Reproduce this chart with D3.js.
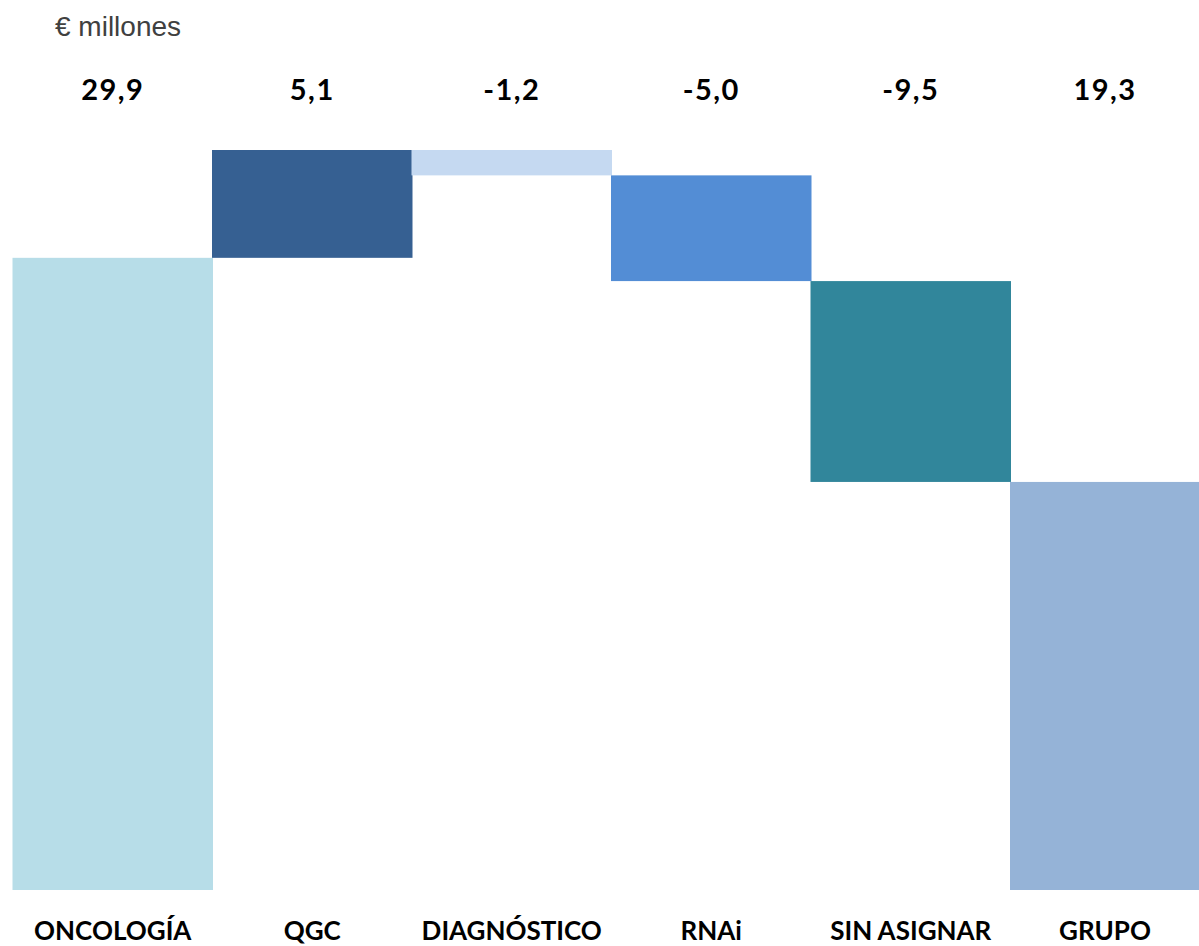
<!DOCTYPE html>
<html>
<head>
<meta charset="utf-8">
<script src="https://cdn.jsdelivr.net/npm/d3@7"></script>
<style>
  html, body { margin: 0; padding: 0; background: #fff; overflow: hidden; }
  svg { display: block; }
</style>
</head>
<body>
<svg id="chart" width="1199" height="946"></svg>
<script>
// Contribución por segmento (€ millones)
const categories = ["ONCOLOGÍA", "QGC", "DIAGNÓSTICO", "RNAi", "SIN ASIGNAR", "GRUPO"];
const values = [29.9, 5.1, -1.2, -5.0, -9.5, 19.3];
const valueLabels = ["29,9", "5,1", "-1,2", "-5,0", "-9,5", "19,3"];
const kinds = ["total", "step", "step", "step", "step", "total"];
const colors = ["#B7DDE8", "#366092", "#C5D9F1", "#538DD5", "#31869B", "#95B3D7"];

// Cascada: cada paso parte del acumulado anterior
let running = 0;
const bars = categories.map((c, i) => {
  let y0, y1;
  if (kinds[i] === "total") {
    y0 = 0; y1 = values[i]; running = values[i];
  } else {
    y0 = running; y1 = running + values[i]; running = y1;
  }
  return { cat: c, lo: Math.min(y0, y1), hi: Math.max(y0, y1), label: valueLabels[i], color: colors[i] };
});

const svg = d3.select("#chart");

const x = d3.scaleBand().domain(categories).range([13, 1210]).paddingInner(0).paddingOuter(0);
const y = d3.scaleLinear().domain([0, 35]).range([890, 150]);
const cx = c => Math.min(x(c) + x.bandwidth() / 2, 1105);

svg.append("text")
  .attr("x", 55).attr("y", 36)
  .attr("font-family", "Liberation Sans, Arial, sans-serif")
  .attr("font-size", 28)
  .attr("fill", "#404040")
  .text("€ millones");

svg.append("g").selectAll("rect")
  .data(bars)
  .join("rect")
  .attr("x", d => x(d.cat) - 0.5)
  .attr("width", x.bandwidth() + 1)
  .attr("y", d => y(d.hi))
  .attr("height", d => y(d.lo) - y(d.hi))
  .attr("fill", d => d.color);

svg.append("g").selectAll("text")
  .data(bars)
  .join("text")
  .attr("x", d => cx(d.cat))
  .attr("y", 100)
  .attr("text-anchor", "middle")
  .attr("font-family", "Lato, 'Open Sans', sans-serif")
  .attr("font-weight", "bold")
  .attr("font-size", 29)
  .attr("letter-spacing", 1.5)
  .attr("fill", "#000")
  .text(d => d.label);

const xAxis = svg.append("g")
  .attr("transform", "translate(0,890)")
  .call(d3.axisBottom(x).tickSize(0).tickPadding(0));
xAxis.select(".domain").remove();
xAxis.selectAll(".tick").attr("transform", d => `translate(${cx(d)},0)`);
xAxis.selectAll("text")
  .attr("y", 50)
  .attr("dy", 0)
  .attr("font-family", "Lato, 'Open Sans', sans-serif")
  .attr("font-weight", "bold")
  .attr("font-size", 26)
  .attr("fill", "#000");
</script>
</body>
</html>
